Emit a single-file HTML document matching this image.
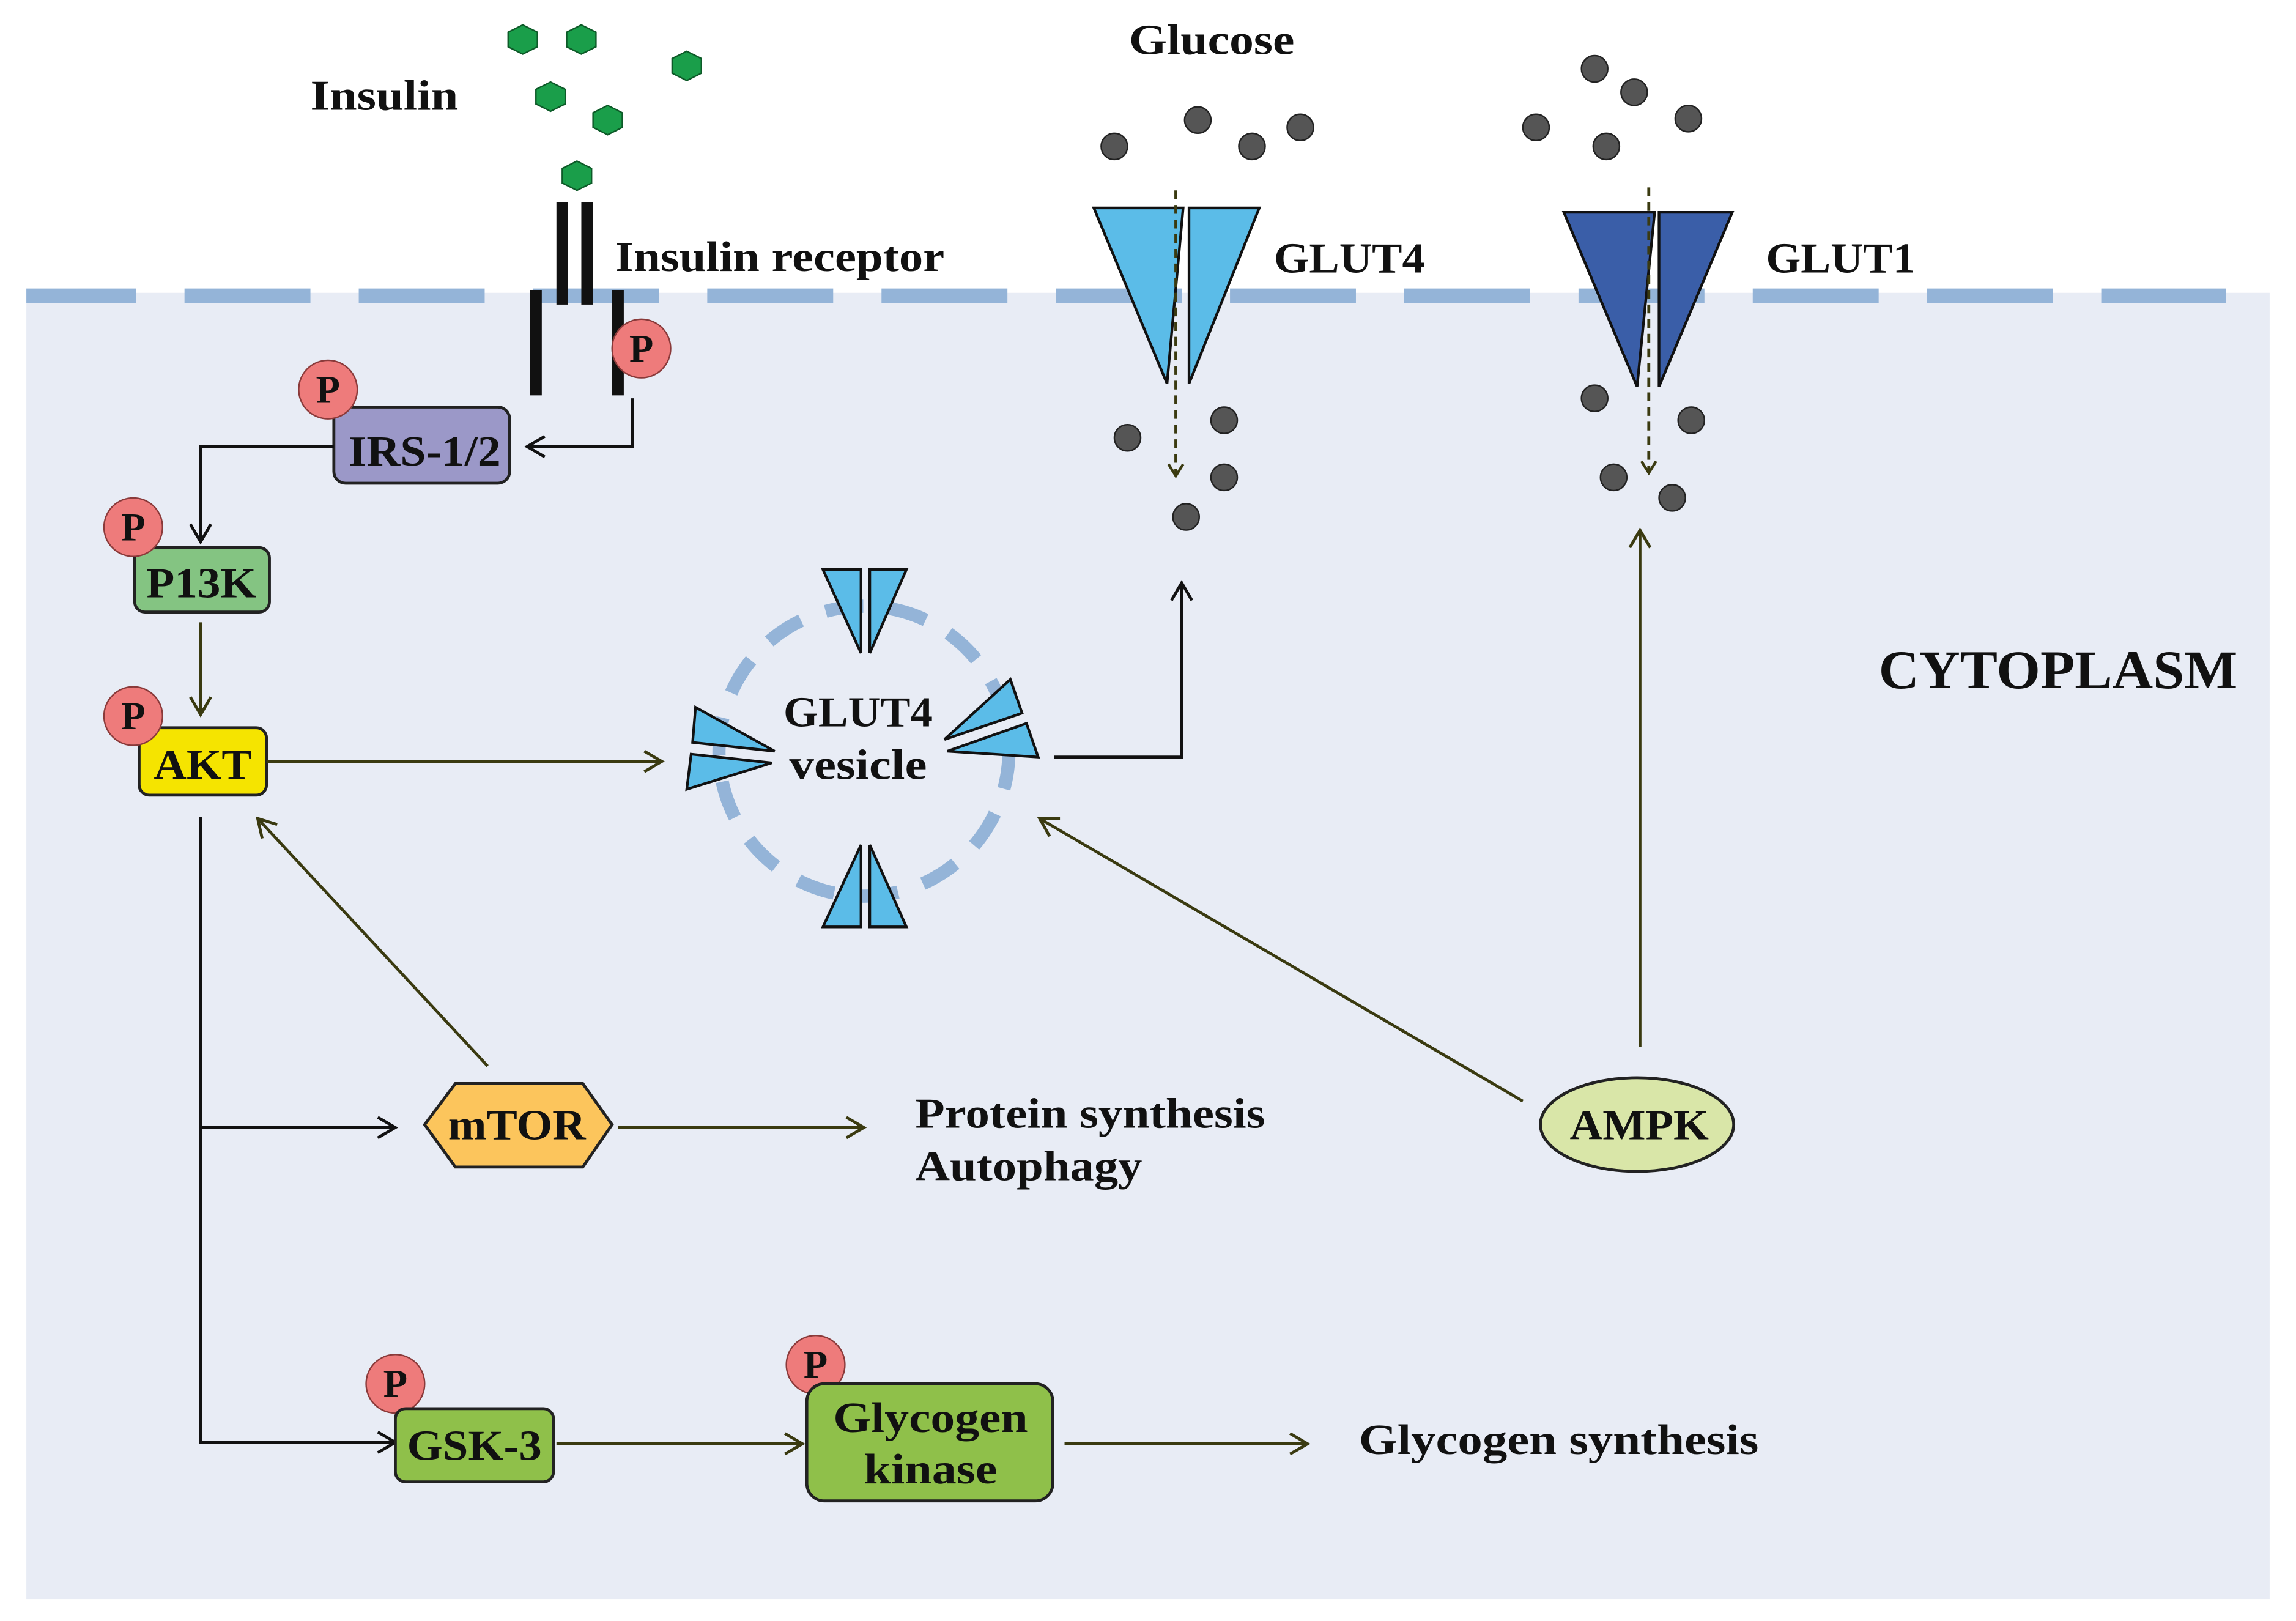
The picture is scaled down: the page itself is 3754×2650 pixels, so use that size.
<!DOCTYPE html>
<html><head><meta charset="utf-8"><style>
html,body{margin:0;padding:0;background:#fff}
svg{display:block}
text{font-family:"Liberation Serif",serif;font-weight:bold;fill:#111}
</style></head><body>
<svg width="3754" height="2650" viewBox="0 0 1568 1107" preserveAspectRatio="none" xmlns="http://www.w3.org/2000/svg">
<defs>
<marker id="ak" markerWidth="20" markerHeight="20" refX="14" refY="8" orient="auto" markerUnits="userSpaceOnUse">
<polyline points="2,1 14,8 2,15" fill="none" stroke="#111" stroke-width="2"/></marker>
<marker id="ao" markerWidth="20" markerHeight="20" refX="14" refY="8" orient="auto" markerUnits="userSpaceOnUse">
<polyline points="2,1 14,8 2,15" fill="none" stroke="#3a3a10" stroke-width="2"/></marker>
<marker id="ad" markerWidth="14" markerHeight="14" refX="9" refY="6" orient="auto" markerUnits="userSpaceOnUse">
<polyline points="1,1 9,6 1,11" fill="none" stroke="#3a3a10" stroke-width="1.8"/></marker>
</defs>
<rect x="0" y="0" width="1568" height="1107" fill="#fff"/>
<rect x="18" y="200" width="1532" height="892" fill="#e8ecf5"/>
<line x1="7" y1="202" x2="1520" y2="202" stroke="#94b4d8" stroke-width="10" stroke-dasharray="86,33"/>
<rect x="0" y="190" width="18" height="20" fill="#fff"/>

<text x="212" y="75" font-size="29" textLength="101" lengthAdjust="spacingAndGlyphs">Insulin</text>
<g fill="#1a9e4a" stroke="#0d5a28" stroke-width="1">
<polygon points="-5,-10 5,-10 10,0 5,10 -5,10 -10,0" transform="translate(357,27) rotate(90)"/>
<polygon points="-5,-10 5,-10 10,0 5,10 -5,10 -10,0" transform="translate(397,27) rotate(90)"/>
<polygon points="-5,-10 5,-10 10,0 5,10 -5,10 -10,0" transform="translate(469,45) rotate(90)"/>
<polygon points="-5,-10 5,-10 10,0 5,10 -5,10 -10,0" transform="translate(376,66) rotate(90)"/>
<polygon points="-5,-10 5,-10 10,0 5,10 -5,10 -10,0" transform="translate(415,82) rotate(90)"/>
<polygon points="-5,-10 5,-10 10,0 5,10 -5,10 -10,0" transform="translate(394,120) rotate(90)"/>
</g>
<rect x="380" y="138" width="8" height="70" fill="#111"/>
<rect x="397" y="138" width="8" height="70" fill="#111"/>
<rect x="362" y="198" width="8" height="72" fill="#111"/>
<rect x="418" y="198" width="8" height="72" fill="#111"/>
<text x="420" y="185" font-size="29" textLength="225" lengthAdjust="spacingAndGlyphs">Insulin receptor</text>
<polyline points="432,272 432,305 360,305" fill="none" stroke="#111" stroke-width="2" marker-end="url(#ak)"/>

<rect x="228" y="278" width="120" height="52" rx="8" fill="#9b98c8" stroke="#222" stroke-width="2"/>
<text x="238" y="318" font-size="29" textLength="104" lengthAdjust="spacingAndGlyphs">IRS-1/2</text>
<polyline points="228,305 137,305 137,370" fill="none" stroke="#111" stroke-width="2" marker-end="url(#ak)"/>

<rect x="92" y="374" width="92" height="44" rx="7" fill="#84c482" stroke="#222" stroke-width="2"/>
<text x="100" y="408" font-size="29" textLength="75" lengthAdjust="spacingAndGlyphs">P13K</text>
<line x1="137" y1="425" x2="137" y2="488" stroke="#3a3a10" stroke-width="2" marker-end="url(#ao)"/>

<rect x="95" y="497" width="87" height="46" rx="7" fill="#f5e400" stroke="#222" stroke-width="2"/>
<text x="105" y="532" font-size="29" textLength="67" lengthAdjust="spacingAndGlyphs">AKT</text>
<line x1="182" y1="520" x2="452" y2="520" stroke="#3a3a10" stroke-width="2" marker-end="url(#ao)"/>

<g fill="#ee7b7b" stroke="#8a3a3a" stroke-width="1">
<circle cx="438" cy="238" r="20"/><circle cx="224" cy="266" r="20"/>
<circle cx="91" cy="360" r="20"/><circle cx="91" cy="489" r="20"/>
<circle cx="270" cy="945" r="20"/><circle cx="557" cy="932" r="20"/>
</g>
<g font-size="27" text-anchor="middle">
<text x="438" y="247">P</text><text x="224" y="275">P</text>
<text x="91" y="369">P</text><text x="91" y="498">P</text>
<text x="270" y="954">P</text><text x="557" y="941">P</text>
</g>

<circle cx="590" cy="513" r="99" fill="none" stroke="#94b4d8" stroke-width="9" stroke-dasharray="26,18"/>
<g fill="#5bbce8" stroke="#111" stroke-width="1.8">
<polygon points="562,389 588,389 588,446"/><polygon points="594,389 619,389 594,446"/>
<polygon points="562,633 588,633 588,577"/><polygon points="594,633 619,633 594,577"/>
<polygon points="475,483 529,513 473,507"/><polygon points="472,515 527,521 469,539"/>
<polygon points="690,464 698,487 645,505"/><polygon points="701,494 709,517 647,513"/>
</g>
<text x="535" y="496" font-size="29" textLength="102" lengthAdjust="spacingAndGlyphs">GLUT4</text>
<text x="539" y="532" font-size="29" textLength="94" lengthAdjust="spacingAndGlyphs">vesicle</text>
<polyline points="720,517 807,517 807,398" fill="none" stroke="#111" stroke-width="2" marker-end="url(#ak)"/>

<text x="771" y="37" font-size="29" textLength="113" lengthAdjust="spacingAndGlyphs">Glucose</text>
<polygon points="747,142 808,142 797,262" fill="#5bbce8" stroke="#111" stroke-width="1.8"/>
<polygon points="812,142 860,142 812,262" fill="#5bbce8" stroke="#111" stroke-width="1.8"/>
<line x1="803" y1="130" x2="803" y2="325" stroke="#3a3a10" stroke-width="2" stroke-dasharray="6,4" marker-end="url(#ad)"/>
<text x="870" y="186" font-size="29" textLength="103" lengthAdjust="spacingAndGlyphs">GLUT4</text>
<polygon points="1068,145 1130,145 1118,264" fill="#3a5ea8" stroke="#111" stroke-width="1.8"/>
<polygon points="1133,145 1183,145 1133,264" fill="#3a5ea8" stroke="#111" stroke-width="1.8"/>
<line x1="1126" y1="128" x2="1126" y2="323" stroke="#3a3a10" stroke-width="2" stroke-dasharray="6,4" marker-end="url(#ad)"/>
<text x="1206" y="186" font-size="29" textLength="102" lengthAdjust="spacingAndGlyphs">GLUT1</text>
<g fill="#555" stroke="#222" stroke-width="1">
<circle cx="761" cy="100" r="9"/><circle cx="818" cy="82" r="9"/><circle cx="855" cy="100" r="9"/><circle cx="888" cy="87" r="9"/>
<circle cx="770" cy="299" r="9"/><circle cx="836" cy="287" r="9"/><circle cx="836" cy="326" r="9"/><circle cx="810" cy="353" r="9"/>
<circle cx="1089" cy="47" r="9"/><circle cx="1116" cy="63" r="9"/><circle cx="1049" cy="87" r="9"/><circle cx="1097" cy="100" r="9"/><circle cx="1153" cy="81" r="9"/>
<circle cx="1089" cy="272" r="9"/><circle cx="1155" cy="287" r="9"/><circle cx="1102" cy="326" r="9"/><circle cx="1142" cy="340" r="9"/>
</g>

<text x="1283" y="470" font-size="37" textLength="245" lengthAdjust="spacingAndGlyphs">CYTOPLASM</text>

<line x1="1120" y1="715" x2="1120" y2="362" stroke="#3a3a10" stroke-width="2" marker-end="url(#ao)"/>
<line x1="1040" y1="752" x2="710" y2="559" stroke="#3a3a10" stroke-width="2" marker-end="url(#ao)"/>
<ellipse cx="1118" cy="768" rx="66" ry="32" fill="#d9e6a8" stroke="#222" stroke-width="2"/>
<text x="1072" y="778" font-size="29" textLength="95" lengthAdjust="spacingAndGlyphs">AMPK</text>

<polyline points="137,558 137,985 270,985" fill="none" stroke="#111" stroke-width="2" marker-end="url(#ak)"/>
<line x1="137" y1="770" x2="270" y2="770" stroke="#111" stroke-width="2" marker-end="url(#ak)"/>
<line x1="333" y1="728" x2="176" y2="559" stroke="#3a3a10" stroke-width="2" marker-end="url(#ao)"/>

<polygon points="290,768 311,740 398,740 418,768 398,797 311,797" fill="#fcc55c" stroke="#222" stroke-width="2"/>
<text x="306" y="778" font-size="29" textLength="94" lengthAdjust="spacingAndGlyphs">mTOR</text>
<line x1="422" y1="770" x2="590" y2="770" stroke="#3a3a10" stroke-width="2" marker-end="url(#ao)"/>
<text x="625" y="770" font-size="29" textLength="239" lengthAdjust="spacingAndGlyphs">Protein synthesis</text>
<text x="625" y="806" font-size="29" textLength="155" lengthAdjust="spacingAndGlyphs">Autophagy</text>

<rect x="270" y="962" width="108" height="50" rx="7" fill="#8fc04a" stroke="#222" stroke-width="2"/>
<text x="278" y="997" font-size="29" textLength="92" lengthAdjust="spacingAndGlyphs">GSK-3</text>
<line x1="380" y1="986" x2="548" y2="986" stroke="#3a3a10" stroke-width="2" marker-end="url(#ao)"/>
<rect x="551" y="945" width="168" height="80" rx="12" fill="#8fc04a" stroke="#222" stroke-width="2"/>
<text x="569" y="978" font-size="29" textLength="133" lengthAdjust="spacingAndGlyphs">Glycogen</text>
<text x="590" y="1013" font-size="29" textLength="91" lengthAdjust="spacingAndGlyphs">kinase</text>
<line x1="727" y1="986" x2="893" y2="986" stroke="#3a3a10" stroke-width="2" marker-end="url(#ao)"/>
<text x="928" y="993" font-size="29" textLength="273" lengthAdjust="spacingAndGlyphs">Glycogen synthesis</text>
</svg>
</body></html>
